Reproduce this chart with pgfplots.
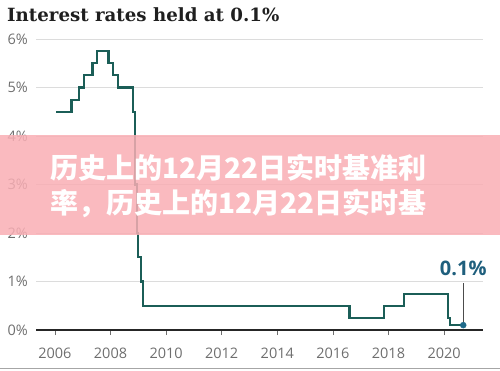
\documentclass[border=0pt]{standalone}
\usepackage{fontspec}
\setmainfont{Open Sans}
\newfontfamily\titlefont{DejaVu Serif}
\newfontfamily\cjk{Noto Sans CJK SC}
\usepackage{pgfplots}
\pgfplotsset{compat=1.18}
\definecolor{rateline}{HTML}{1B5E57}
\definecolor{dotblue}{HTML}{1F6A8A}
\definecolor{annblue}{HTML}{1F5F7D}
\definecolor{tickgray}{HTML}{6E6E6E}
\definecolor{gridgray}{HTML}{DCDCDC}
\definecolor{bandpink}{HTML}{F9AEB4}
\begin{document}
\begin{tikzpicture}[x=1pt,y=1pt]
\useasboundingbox (0,0) rectangle (500,370);
\begin{axis}[
  at={(36pt,40pt)}, anchor=south west,
  scale only axis, width=447pt, height=291pt,
  xmin=2005.32, xmax=2021.40, ymin=0, ymax=6,
  clip=false,
  axis lines*=left,
  axis line style={-},
  y axis line style={draw=none},
  x axis line style={draw=black!85, line width=1.1pt},
  ymajorgrids, grid style={gridgray, line width=0.9pt},
  ytick={0,1,2,3,4,5,6},
  yticklabels={0\%,1\%,2\%,3\%,4\%,5\%,6\%},
  xtick={2006,2008,2010,2012,2014,2016,2018,2020},
  xticklabels={2006,2008,2010,2012,2014,2016,2018,2020},
  ytick style={draw=none},
  xtick style={draw=tickgray, line width=0.7pt},
  xtick align=outside, major tick length=5pt,
  tick label style={font=\fontsize{14.5}{16}\selectfont, text=tickgray},
  yticklabel style={anchor=east, inner sep=0pt, xshift=-8pt},
  xticklabel style={anchor=north, inner sep=0pt, yshift=-13pt},
]
\addplot[const plot, rateline, line width=2.2pt] coordinates {
(2006.05,4.5) (2006.60,4.75) (2006.86,5.0) (2007.04,5.25) (2007.35,5.5)
(2007.52,5.75) (2007.93,5.5) (2008.10,5.25) (2008.27,5.0) (2008.82,4.5)
(2008.88,3.0) (2008.94,2.0) (2009.00,1.5) (2009.10,1.0) (2009.18,0.5)
(2016.60,0.25) (2017.83,0.5) (2018.57,0.75) (2020.15,0.25) (2020.20,0.1)
(2020.69,0.1)};
\addplot[black!70, line width=0.8pt] coordinates {(2020.69,0.1) (2020.69,0.97)};
\addplot[only marks, mark=*, mark size=3pt, dotblue] coordinates {(2020.69,0.1)};
\node[text=annblue, font=\fontsize{20}{22}\selectfont\bfseries] at (axis cs:2020.69,1.28) {0.1\%};
\end{axis}
\node[anchor=base west, inner sep=0pt, font=\titlefont\bfseries\fontsize{18.2}{21}\selectfont, text=black!88] at (7,348) {Interest rates held at 0.1\%};
\fill[bandpink, fill opacity=0.85] (0,135) rectangle (500,235);
\node[anchor=west, inner sep=0pt, text=white, font=\cjk\bfseries\fontsize{28}{30}\selectfont] at (50,202) {历史上的12月22日实时基准利};
\node[anchor=west, inner sep=0pt, text=white, font=\cjk\bfseries\fontsize{28}{30}\selectfont] at (50,167) {率，历史上的12月22日实时基};
\draw[black!35, line width=0.8pt] (0,2) -- (500,2);
\end{tikzpicture}
\end{document}
